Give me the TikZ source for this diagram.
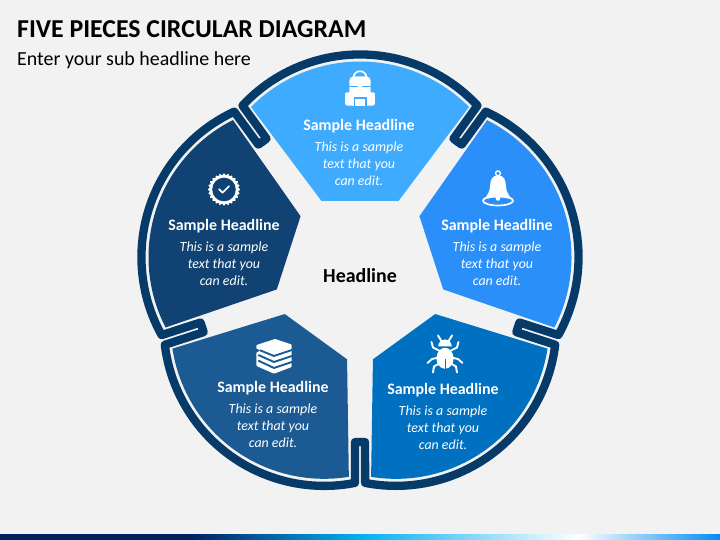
\documentclass[tikz,border=0pt]{standalone}
\usepackage{fontspec}
\setmainfont{Carlito}
\usetikzlibrary{positioning}
\definecolor{backG}{HTML}{F2F2F2}
\definecolor{ring}{HTML}{063B69}
\definecolor{pieceA}{HTML}{3FABFF}
\definecolor{pieceB}{HTML}{104273}
\definecolor{pieceC}{HTML}{1B5A93}
\definecolor{pieceD}{HTML}{0070C0}
\definecolor{pieceE}{HTML}{2A8FF9}
\definecolor{barA}{HTML}{002060}
\definecolor{barB}{HTML}{00B0F0}

\begin{document}
\begin{tikzpicture}[
	x=1bp,y=1bp,
	title/.style={
		anchor=west,
		inner sep=0pt,
		font=\fontsize{25.9}{25.9}\selectfont\bfseries
	},
	subtitle/.style={
		anchor=west,
		inner sep=0pt,
		font=\fontsize{20}{20}\selectfont
	},
	head/.style={
		text=white,
		inner sep=0pt,
		font=\fontsize{16}{17}\selectfont\bfseries
	},
	body/.style={
		text=white,
		inner sep=0pt,
		align=center,
		font=\fontsize{14}{17}\selectfont\itshape
	},
	rim/.style={
		draw=ring,
		line width=8.3bp,
		line join=round,
		line cap=round
	},
	pack/.pic={
		\draw[white,line width=1.7bp] (-6.6,9) -- (-6.6,10.2) arc[start angle=180,end angle=0,radius=6.6] -- (6.6,9);
		\fill[white,rounded corners=4bp] (-10.6,-17.7) rectangle (10.6,11.5);
		\fill[white,rounded corners=1.5bp] (-14.8,-17.7) rectangle (14.8,-4.3);
		\fill[pieceA] (-10.6,0.7) rectangle (10.6,2.1);
		\fill[white] (-2.2,-0.6) rectangle (2.2,3.4);
		\fill[pieceA] (-6.5,-17.7) rectangle (6.5,-8.8);
		\fill[white] (-5,-17.7) rectangle (5,-10.8);
	},
	bell/.pic={
		\draw[white,line width=1.3bp] (0,14.7) circle[radius=2.4];
		\fill[white] (0,12.6) .. controls (-6,12.6) and (-7.6,8) .. (-7.8,3) .. controls (-8,-3) and (-10,-6) .. (-12.5,-9.5) -- (-8,-12) -- (8,-12) -- (12.5,-9.5) .. controls (10,-6) and (8,-3) .. (7.8,3) .. controls (7.6,8) and (6,12.6) .. (0,12.6) -- cycle;
		\fill[pieceE] (0,-13) ellipse[x radius=13.5,y radius=3.5];
		\draw[white,line width=1.7bp] (0,-12.7) ellipse[x radius=15,y radius=4.8];
		\fill[white] (0,-10.5) circle[radius=2.3];
	},
	badge/.pic={
		\fill[white] plot[domain=0:360,samples=145,smooth] ({(15.2+0.9*cos(24*\x))*cos(\x)},{(15.2+0.9*cos(24*\x))*sin(\x)}) -- cycle;
		\fill[pieceB] (0,0) circle[radius=11.8];
		\draw[white,line width=1.7bp,line cap=round,line join=round] (-5,0.3) -- (-1.5,-3.2) -- (5,3.2);
	},
	books/.pic={
		\fill[white,rounded corners=0.8bp] (1,17) -- (17.7,11.5) -- (17.7,-11) -- (0,-17.7) -- (-17.5,-10) -- (-17.5,11) -- cycle;
		\draw[pieceC,line width=1.9bp] (-14,5.7) -- (0,0) -- (18,6);
		\draw[pieceC,line width=1.9bp] (-15.7,1) -- (0,-6) -- (18,0);
		\draw[pieceC,line width=1.9bp] (-15.7,-4.6) -- (0,-12) -- (18,-6);
		\fill[pieceC] (-18,3) -- (-14,5.7) -- (-18,7.5) -- cycle;
	},
	bug/.pic={
		\foreach \side in {-1,1} {
			\begin{scope}[xscale=\side,white,line width=1.9bp,line cap=round,line join=round]
				\draw (3,12) -- (7,18.5);
				\draw (6,3.5) -- (12,6.5) -- (13.5,12);
				\draw (6,-3.5) -- (13,-5) -- (17.5,-9);
				\draw (5,-9) -- (11,-12.5) -- (12,-18.5);
			\end{scope}
		}
		\fill[white] (-6.8,7.7) arc[start angle=180,end angle=0,radius=6.8] -- cycle;
		\fill[white] (0,-4.3) ellipse[x radius=8.6,y radius=10.5];
		\draw[pieceD,line width=1bp] (0,-5) -- (0,-15);
	}
	]
	\useasboundingbox (-360,-264) rectangle (360,276);
	\fill[backG] (-360,-264) rectangle (360,276);

	\foreach \ang/\col in {0/pieceA,72/pieceB,144/pieceC,216/pieceD,288/pieceE} {
		\fill[\col,rotate=\ang] (-38.5,75) -- (-109,169) arc[start angle=135.3,end angle=44.7,radius=153.4] -- (38.5,75) -- cycle;
		\draw[rim,rotate=\ang] (-97.6,134.3) -- (-93.5,137.3) -- (-117.5,170.4) arc[start angle=137.05,end angle=42.95,radius=160.5] -- (93.5,137.3) -- (97.6,134.3);
	}

	\foreach \name/\x/\y in {A/-1/150,B/-136/50,C/-87/-112,D/83/-114,E/137/50} {
		\node[head] (head\name) at (\x,\y) {Sample Headline};
		\node[body,below=9bp of head\name] (body\name) {This is a sample\\text that you\\can edit.};
	}

	\pic at (0,188) {pack};
	\pic at (-136,86.5) {badge};
	\pic at (-86,-80) {books};
	\pic at (85,-78) {bug};
	\pic at (138,88) {bell};

	\node[font=\fontsize{20}{20}\selectfont\bfseries] (centre) at (0,0) {Headline};
	\node[title] (maintitle) at (-343,247) {FIVE PIECES CIRCULAR DIAGRAM};
	\node[subtitle] (subline) at (-343,216) {Enter your sub headline here};

	\fill[barA] (-360,-264) rectangle (-170,-258);
	\shade[left color=barA,right color=barB] (-170,-264) rectangle (0,-258);
	\shade[left color=barB,right color=white] (0,-264) rectangle (218,-258);
	\shade[left color=white,right color=barB!80!blue] (218,-264) rectangle (360,-258);
\end{tikzpicture}
\end{document}
